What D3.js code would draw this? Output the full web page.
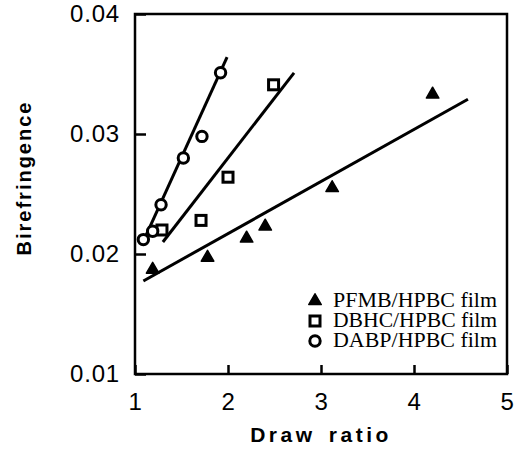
<!DOCTYPE html>
<html>
<head>
<meta charset="utf-8">
<script src="https://cdn.jsdelivr.net/npm/d3@7"></script>
<style>
  body { margin: 0; background: #fff; }
  svg { display: block; }
</style>
</head>
<body>
<div id="chart"></div>
<script>
// values
var seriesNames = ["PFMB/HPBC film", "DBHC/HPBC film", "DABP/HPBC film"];
var seriesSymbols = ["triangle", "square", "circle"];

var pfmbX = [1.19, 1.78, 2.2, 2.4, 3.12, 4.2];
var pfmbY = [0.0187, 0.0197, 0.0213, 0.0223, 0.0255, 0.0333];

var dbhcX = [1.29, 1.71, 2.0, 2.49];
var dbhcY = [0.0220, 0.0228, 0.0264, 0.0341];

var dabpX = [1.09, 1.19, 1.28, 1.52, 1.72, 1.92];
var dabpY = [0.0212, 0.0219, 0.0241, 0.0280, 0.0298, 0.0351];

// fitted straight lines: [x start, y start, x end, y end]
var pfmbFit = [1.09, 0.01775, 4.58, 0.0329];
var dbhcFit = [1.30, 0.0210, 2.71, 0.0351];
var dabpFit = [1.11, 0.0214, 1.99, 0.0364];

var xTicks = [1, 2, 3, 4, 5];
var yTicks = [0.01, 0.02, 0.03, 0.04];
var xTitle = "Draw ratio";
var yTitle = "Birefringence";

var w = 523,
    h = 453;
var plotLeft = 135, plotRight = 507, plotTop = 14, plotBottom = 374;

var svg = d3.select("#chart").append("svg")
    .attr("width", w)
    .attr("height", h);

var x = d3.scaleLinear().domain([1, 5]).range([plotLeft, plotRight]),
    y = d3.scaleLinear().domain([0.01, 0.04]).range([plotBottom, plotTop]);

var sans = "'Liberation Sans', Arial, Helvetica, sans-serif";
var serif = "'Liberation Serif', 'Times New Roman', serif";

// axes with inward ticks
var gx = svg.append("g")
    .attr("transform", "translate(0," + plotBottom + ")")
    .call(d3.axisBottom(x).tickValues(xTicks).tickSize(-9).tickPadding(19)
        .tickFormat(d3.format("d")));
var gy = svg.append("g")
    .attr("transform", "translate(" + plotLeft + ",0)")
    .call(d3.axisLeft(y).tickValues(yTicks).tickSize(-11).tickPadding(15)
        .tickFormat(d3.format(".2f")));

[gx, gy].forEach(function (g) {
    g.select(".domain").remove();
    g.selectAll(".tick line").attr("stroke", "#000").attr("stroke-width", 2.5);
    g.selectAll(".tick text")
        .attr("fill", "#000")
        .style("font-family", sans)
        .style("font-size", "24px")
        .style("letter-spacing", "0.8px");
});

// frame
svg.append("rect")
    .attr("x", plotLeft)
    .attr("y", plotTop)
    .attr("width", plotRight - plotLeft)
    .attr("height", plotBottom - plotTop)
    .attr("fill", "none")
    .attr("stroke", "#000")
    .attr("stroke-width", 2.5);

// axis titles
svg.append("text")
    .attr("x", (plotLeft + plotRight) / 2)
    .attr("y", 442)
    .attr("text-anchor", "middle")
    .style("font-family", sans)
    .style("font-weight", "bold")
    .style("font-size", "21px")
    .style("letter-spacing", "3.5px")
    .style("word-spacing", "4px")
    .text(xTitle);

svg.append("text")
    .attr("transform", "translate(31," + 178 + ") rotate(-90)")
    .attr("text-anchor", "middle")
    .style("font-family", sans)
    .style("font-weight", "bold")
    .style("font-size", "20px")
    .style("letter-spacing", "2px")
    .text(yTitle);

// fit lines
[pfmbFit, dbhcFit, dabpFit].forEach(function (f) {
    svg.append("line")
        .attr("x1", x(f[0])).attr("y1", y(f[1]))
        .attr("x2", x(f[2])).attr("y2", y(f[3]))
        .attr("stroke", "#000")
        .attr("stroke-width", 3);
});

function marker(sel, kind) {
    if (kind === "triangle") {
        sel.append("path")
            .attr("d", d3.symbol(d3.symbolTriangle, 68)())
            .attr("fill", "#000")
            .attr("stroke", "#000")
            .attr("stroke-width", 1.5)
            .attr("stroke-linejoin", "round");
    } else if (kind === "square") {
        sel.append("rect")
            .attr("x", -5).attr("y", -5)
            .attr("width", 10).attr("height", 10)
            .attr("fill", "#fff")
            .attr("stroke", "#000")
            .attr("stroke-width", 3);
    } else {
        sel.append("circle")
            .attr("r", 5.2)
            .attr("fill", "#fff")
            .attr("stroke", "#000")
            .attr("stroke-width", 3);
    }
}

var allSeries = [
    { xs: pfmbX, ys: pfmbY, kind: seriesSymbols[0] },
    { xs: dbhcX, ys: dbhcY, kind: seriesSymbols[1] },
    { xs: dabpX, ys: dabpY, kind: seriesSymbols[2] }
];

allSeries.forEach(function (s) {
    s.xs.forEach(function (v, i) {
        var g = svg.append("g")
            .attr("transform", "translate(" + x(v) + "," + y(s.ys[i]) + ")");
        marker(g, s.kind);
    });
});

// legend
var legend = svg.append("g").attr("transform", "translate(315,301)");
seriesNames.forEach(function (name, i) {
    var row = legend.append("g").attr("transform", "translate(0," + (i * 20) + ")");
    marker(row, seriesSymbols[i]);
    row.append("text")
        .attr("x", 18)
        .attr("y", 6)
        .attr("textLength", 164)
        .attr("lengthAdjust", "spacingAndGlyphs")
        .style("font-family", serif)
        .style("font-size", "20px")
        .text(name);
});
</script>
</body>
</html>
